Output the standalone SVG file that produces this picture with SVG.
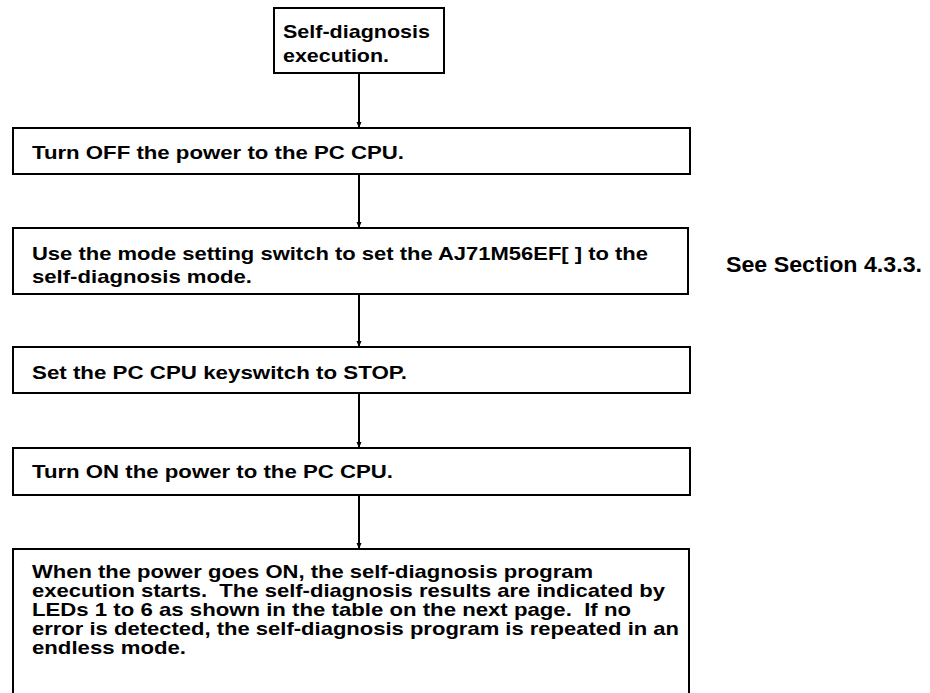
<svg xmlns="http://www.w3.org/2000/svg" width="930" height="693" viewBox="0 0 930 693">
<style>
.box{fill:#fff;stroke:#000;stroke-width:2}
.t{font-family:"Liberation Sans",Arial,Helvetica,sans-serif;font-weight:bold;font-size:19px;fill:#000}
.side{font-family:"Liberation Sans",Arial,Helvetica,sans-serif;font-weight:bold;font-size:22px;fill:#000}
.conn{stroke:#000;stroke-width:2;fill:none}
</style>
<defs>
<marker id="ah" markerWidth="6" markerHeight="6" refX="5" refY="3" orient="auto" markerUnits="userSpaceOnUse">
<path d="M0,0.5 L6,3 L0,5.5 Z" fill="#000"/>
</marker>
</defs>
<rect width="930" height="693" fill="#fff"/>
<g id="connectors">
<line class="conn" x1="359" y1="73" x2="359" y2="127" marker-end="url(#ah)"/>
<line class="conn" x1="359" y1="174" x2="359" y2="227" marker-end="url(#ah)"/>
<line class="conn" x1="359" y1="294" x2="359" y2="346" marker-end="url(#ah)"/>
<line class="conn" x1="359" y1="393" x2="359" y2="447" marker-end="url(#ah)"/>
<line class="conn" x1="359" y1="495" x2="359" y2="548" marker-end="url(#ah)"/>
</g>
<g id="n1">
<rect class="box" x="274" y="8" width="170" height="65"/>
<text class="t" x="283" y="38" textLength="147" lengthAdjust="spacingAndGlyphs">Self-diagnosis</text>
<text class="t" x="283" y="62" textLength="106" lengthAdjust="spacingAndGlyphs">execution.</text>
</g>
<g id="n2">
<rect class="box" x="13" y="128" width="677" height="46"/>
<text class="t" x="32" y="159" textLength="372" lengthAdjust="spacingAndGlyphs">Turn OFF the power to the PC CPU.</text>
</g>
<g id="n3">
<rect class="box" x="13" y="228" width="675" height="66"/>
<text class="t" x="32" y="260" textLength="616" lengthAdjust="spacingAndGlyphs">Use the mode setting switch to set the AJ71M56EF[ ] to the</text>
<text class="t" x="32" y="283" textLength="220" lengthAdjust="spacingAndGlyphs">self-diagnosis mode.</text>
</g>
<g id="note">
<text class="side" x="726" y="272" textLength="196" lengthAdjust="spacingAndGlyphs">See Section 4.3.3.</text>
</g>
<g id="n4">
<rect class="box" x="13" y="347" width="677" height="46"/>
<text class="t" x="32" y="379" textLength="375" lengthAdjust="spacingAndGlyphs">Set the PC CPU keyswitch to STOP.</text>
</g>
<g id="n5">
<rect class="box" x="13" y="448" width="677" height="47"/>
<text class="t" x="32" y="478" textLength="361" lengthAdjust="spacingAndGlyphs">Turn ON the power to the PC CPU.</text>
</g>
<g id="n6">
<path class="box" d="M13,694 L13,549 L689,549 L689,694"/>
<text class="t" x="32" y="578" textLength="561" lengthAdjust="spacingAndGlyphs">When the power goes ON, the self-diagnosis program</text>
<text class="t" x="32" y="597" textLength="633" lengthAdjust="spacingAndGlyphs">execution starts.&#160; The self-diagnosis results are indicated by</text>
<text class="t" x="32" y="616" textLength="599" lengthAdjust="spacingAndGlyphs">LEDs 1 to 6 as shown in the table on the next page.&#160; If no</text>
<text class="t" x="32" y="635" textLength="647" lengthAdjust="spacingAndGlyphs">error is detected, the self-diagnosis program is repeated in an</text>
<text class="t" x="32" y="654" textLength="154" lengthAdjust="spacingAndGlyphs">endless mode.</text>
</g>
</svg>
